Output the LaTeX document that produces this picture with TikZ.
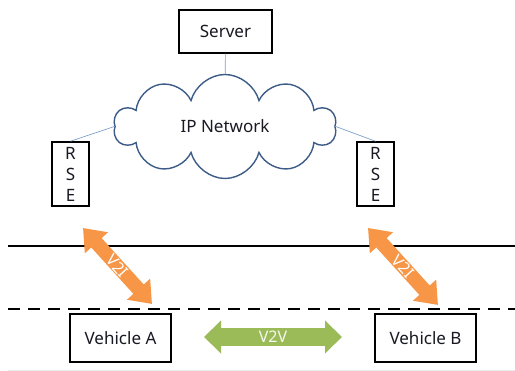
\documentclass[tikz,border=0pt]{standalone}
\usepackage{fontspec}
\setmainfont{Noto Sans}
\usepackage{tikz}
\usetikzlibrary{arrows.meta, shapes.symbols, calc}
\definecolor{vnorange}{RGB}{247,150,70}
\definecolor{vngreen}{RGB}{155,187,89}
\definecolor{vncloud}{RGB}{60,92,135}
\definecolor{vnlink}{RGB}{125,160,205}
\definecolor{vntext}{RGB}{25,25,35}

\tikzset{
  box/.style={draw=black, line width=1.5pt, fill=white, text=vntext,
    font=\fontsize{17}{21}\selectfont, inner sep=0pt},
  link/.style={vnlink, line width=0.7pt},
  vtoi/.style={vnorange, line width=14pt,
    {Triangle[width=30pt,length=20pt]}-{Triangle[width=30pt,length=20pt]}},
  vtov/.style={vngreen, line width=18pt,
    {Triangle[width=32pt,length=17pt]}-{Triangle[width=32pt,length=17pt]}},
  tag/.style={white, font=\fontsize{16}{18}\selectfont, inner sep=0pt}
}

\begin{document}
\begin{tikzpicture}[x=1pt, y=1pt]
\useasboundingbox (0,0) rectangle (515,371);

% road lines
\draw[black, line width=2.6pt] (8,125) -- (515,125);
\draw[black, line width=2.6pt, dash pattern=on 12pt off 8pt] (8,62) -- (515,62);
\draw[black!8, line width=0.8pt] (8,1) -- (515,1);

% server + network
\node[box, minimum width=93pt, minimum height=43pt] (server) at (225.5,339.5) {Server};
\node[cloud, cloud puffs=10, cloud ignores aspect, draw=vncloud, line width=1.4pt,
      minimum width=222pt, minimum height=104pt, inner sep=0pt,
      text=vntext, font=\fontsize{17}{20}\selectfont] (net) at (225,244.5) {IP Network};

% road side equipment
\node[box, minimum width=37pt, minimum height=64pt, align=center] (rseA) at (70.5,197) {R\\S\\E};
\node[box, minimum width=37pt, minimum height=64pt, align=center] (rseB) at (375.5,197) {R\\S\\E};

% vehicles
\node[box, minimum width=101pt, minimum height=48pt] (vehA) at (120.5,33) {Vehicle A};
\node[box, minimum width=101pt, minimum height=48pt] (vehB) at (425.5,33) {Vehicle B};

% wired links
\draw[link] (server) -- (net);
\draw[link] (net.west) -- (rseA.north);
\draw[link] (net.east) -- (rseB.north);

% radio links
\coordinate (aTop) at (83,143);
\coordinate (aBot) at (152,67);
\coordinate (bTop) at (368,143);
\coordinate (bBot) at (438,66);
\draw[vtoi] (aTop) -- node[tag, sloped] {V2I} (aBot);
\draw[vtoi] (bTop) -- node[tag, sloped] {V2I} (bBot);

\coordinate (vvL) at (204,34);
\coordinate (vvR) at (342,34);
\draw[vtov] (vvL) -- node[tag, white!90!vngreen] {V2V} (vvR);
\end{tikzpicture}
\end{document}
